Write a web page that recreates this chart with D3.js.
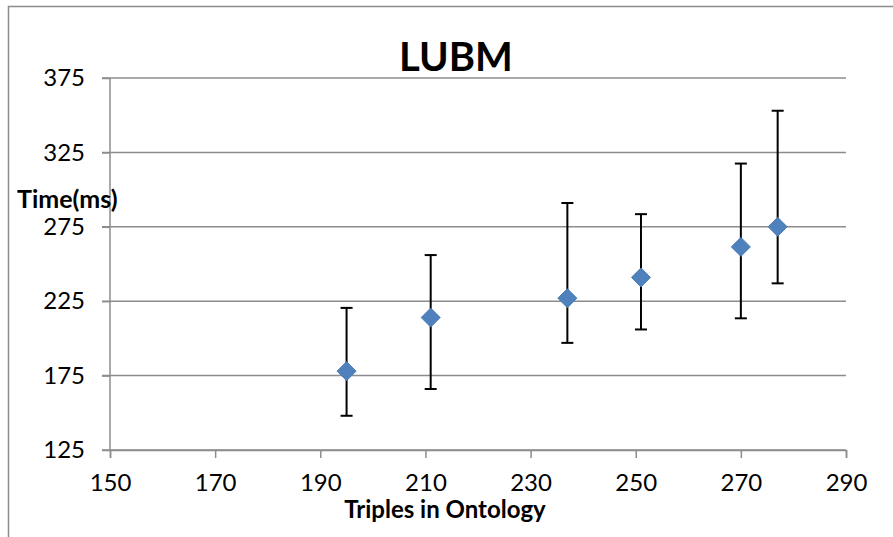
<!DOCTYPE html>
<html>
<head>
<meta charset="utf-8">
<script src="https://cdn.jsdelivr.net/npm/d3@7"></script>
<style>
  body { margin: 0; background: #fff; }
  text { font-family: Lato, "Open Sans", sans-serif; fill: #000; }
</style>
</head>
<body>
<div id="chart"></div>
<script>
"use strict";

var triples = [195, 211, 237, 251, 270, 277];
var timeMs = [178, 214, 227, 241, 261.5, 275];
var errLow = [148, 166, 197, 206, 213.5, 237];
var errHigh = [220.5, 256, 291, 283.5, 317.5, 353];
var xTicks = [150, 170, 190, 210, 230, 250, 270, 290];
var yTicks = [125, 175, 225, 275, 325, 375];

var W = 893, H = 537;
var margin = { top: 78, right: 47, bottom: 87, left: 110 };
var width = W - margin.left - margin.right;
var height = H - margin.top - margin.bottom;

var root = d3.select("#chart").append("svg").attr("width", W).attr("height", H);

// outer chart border (cut off at right and bottom like the original)
root.append("rect").attr("x", 8.5).attr("y", 6.5).attr("width", 1000).attr("height", 1000)
  .attr("fill", "none").attr("stroke", "#8c8c8c").attr("stroke-width", 1.5);

var svg = root.append("g").attr("transform", "translate(" + margin.left + "," + margin.top + ")");

var xScale = d3.scaleLinear().domain([150, 290]).range([0, width]);
var yScale = d3.scaleLinear().domain([125, 375]).range([height, 0]);

// horizontal gridlines
svg.append("g").selectAll("line").data(yTicks).enter().append("line")
  .attr("x1", -8).attr("x2", width)
  .attr("y1", function (d) { return yScale(d); })
  .attr("y2", function (d) { return yScale(d); })
  .attr("stroke", "#8c8c8c").attr("stroke-width", 1.5);

var xAxis = d3.axisBottom(xScale).tickValues(xTicks).tickSize(8).tickSizeOuter(8).tickPadding(16);
var yAxis = d3.axisLeft(yScale).tickValues(yTicks).tickSize(8).tickSizeOuter(0).tickPadding(17);

var gx = svg.append("g").attr("transform", "translate(0," + height + ")").call(xAxis);
var gy = svg.append("g").call(yAxis);

[gx, gy].forEach(function (g) {
  g.selectAll("path, line").attr("stroke", "#8c8c8c").attr("stroke-width", 1.5);
  g.selectAll("text").attr("font-size", "24px").attr("font-family", "Lato, sans-serif").attr("fill", "#000");
});
gy.select(".domain").remove();
svg.append("line").attr("x1", 0).attr("x2", 0).attr("y1", 0).attr("y2", height)
  .attr("stroke", "#8c8c8c").attr("stroke-width", 1.5);

// error bars
var capW = 6;
var bars = svg.append("g").selectAll("g").data(triples).enter().append("g");
bars.append("line")
  .attr("x1", function (d) { return xScale(d); })
  .attr("x2", function (d) { return xScale(d); })
  .attr("y1", function (d, i) { return yScale(errLow[i]); })
  .attr("y2", function (d, i) { return yScale(errHigh[i]); })
  .attr("stroke", "#000").attr("stroke-width", 2);
bars.append("line")
  .attr("x1", function (d) { return xScale(d) - capW; })
  .attr("x2", function (d) { return xScale(d) + capW; })
  .attr("y1", function (d, i) { return yScale(errLow[i]); })
  .attr("y2", function (d, i) { return yScale(errLow[i]); })
  .attr("stroke", "#000").attr("stroke-width", 2);
bars.append("line")
  .attr("x1", function (d) { return xScale(d) - capW; })
  .attr("x2", function (d) { return xScale(d) + capW; })
  .attr("y1", function (d, i) { return yScale(errHigh[i]); })
  .attr("y2", function (d, i) { return yScale(errHigh[i]); })
  .attr("stroke", "#000").attr("stroke-width", 2);

// diamond markers
var diamond = d3.symbol().type(d3.symbolDiamond2).size(230);
svg.append("g").selectAll("path").data(triples).enter().append("path")
  .attr("d", diamond)
  .attr("transform", function (d, i) { return "translate(" + xScale(d) + "," + yScale(timeMs[i]) + ")"; })
  .attr("fill", "#4f81bd").attr("stroke", "#4a7ab3").attr("stroke-width", 1);

// titles
root.append("text").attr("x", 456).attr("y", 71).attr("text-anchor", "middle")
  .attr("font-size", "40px").attr("font-weight", "bold").text("LUBM");

root.append("text").attr("x", 445).attr("y", 518).attr("text-anchor", "middle")
  .attr("font-size", "24px").attr("font-weight", "bold").text("Triples in Ontology");

root.append("text").attr("x", 17).attr("y", 208).attr("text-anchor", "start")
  .attr("font-size", "25px").attr("font-weight", "bold").text("Time(ms)");
</script>
</body>
</html>
